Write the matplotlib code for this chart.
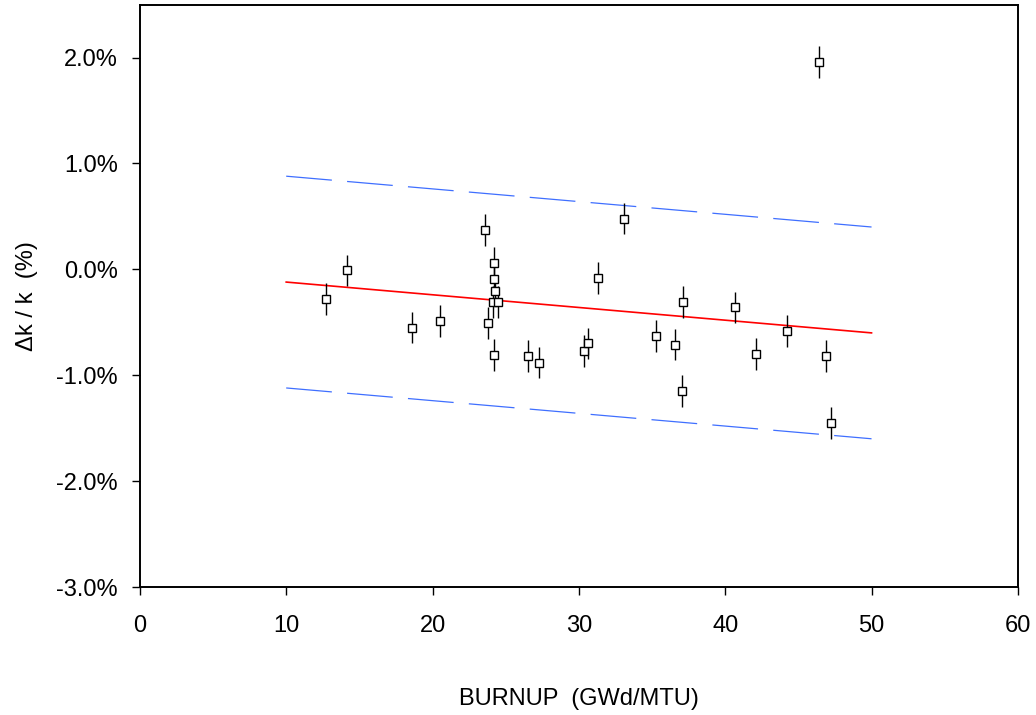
import matplotlib.pyplot as plt
from matplotlib.ticker import FuncFormatter

plt.rcParams["font.family"] = ["Liberation Sans", "DejaVu Sans"]
plt.rcParams["lines.scale_dashes"] = False

# measured points: burnup (GWd/MTU) and delta k / k (%)
burnup = [12.7, 14.15, 18.6, 20.5, 23.6, 23.8, 24.2, 24.2, 24.3, 24.1, 24.5, 24.2,
          26.5, 27.3, 30.35, 30.6, 31.3, 33.1, 35.3, 36.6, 37.05, 37.1, 40.7,
          42.1, 44.2, 46.4, 46.9, 47.2]
dk = [-0.28, -0.01, -0.55, -0.49, 0.37, -0.51, 0.06, -0.09, -0.20, -0.31, -0.31, -0.81,
      -0.82, -0.88, -0.77, -0.70, -0.08, 0.48, -0.63, -0.71, -1.15, -0.31, -0.36,
      -0.80, -0.58, 1.96, -0.82, -1.45]
dk_err = [0.15] * len(dk)

# trend line and +/- band end points
fit_x = [10, 50]
fit_y = [-0.12, -0.60]
upper_y = [0.88, 0.40]
lower_y = [-1.12, -1.60]

fig = plt.figure(figsize=(10.36, 7.15), dpi=100)
ax = fig.add_axes([0.135, 0.179, 0.8475, 0.8145])

ax.plot(fit_x, fit_y, color="red", lw=1.2)
ax.plot(fit_x, upper_y, color="#3f6fff", lw=0.9, dashes=(33, 11))
ax.plot(fit_x, lower_y, color="#3f6fff", lw=0.9, dashes=(33, 11))
ax.errorbar(burnup, dk, yerr=dk_err, fmt="s", mfc="white", mec="black", mew=1.0,
            ms=5.5, ecolor="black", elinewidth=1.0, capsize=0)

ax.set_xlim(0, 60)
ax.set_ylim(-3.0, 2.5)
ax.set_xticks(range(0, 61, 10))
ax.set_yticks([-3, -2, -1, 0, 1, 2])
ax.yaxis.set_major_formatter(FuncFormatter(lambda v, p: "%.1f%%" % v))

ax.tick_params(axis="both", direction="out", length=6, width=1, labelsize=17)
ax.tick_params(axis="x", pad=14)
ax.tick_params(axis="y", pad=10)
for s in ax.spines.values():
    s.set_linewidth(1.4)

ax.set_xlabel("BURNUP  (GWd/MTU)", fontsize=17, labelpad=37)
ax.set_ylabel("\u0394k / k  (%)", fontsize=17, labelpad=13)

fig.savefig("out.png", dpi=100)
